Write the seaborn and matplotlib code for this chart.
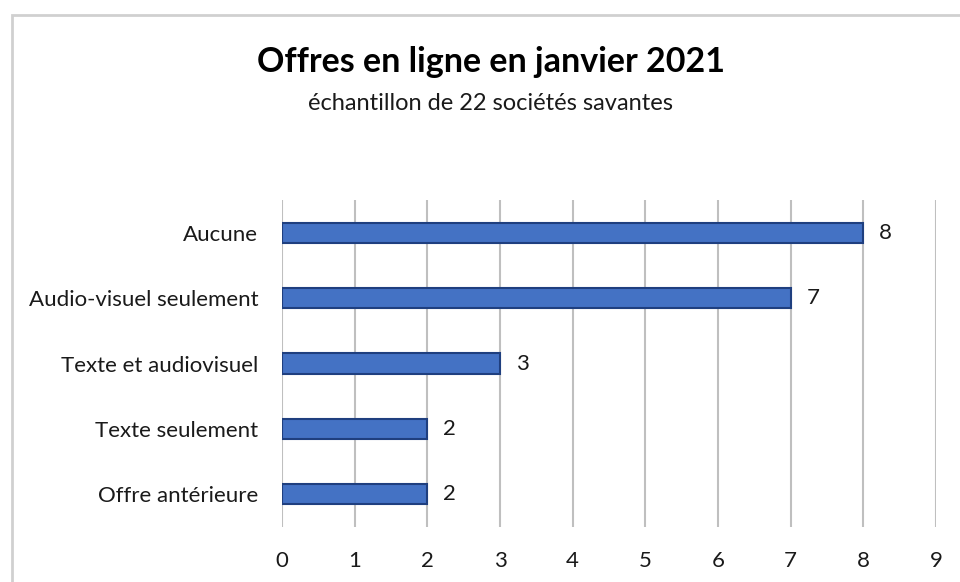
import matplotlib
matplotlib.use("Agg")
import matplotlib.pyplot as plt
import seaborn as sns
from matplotlib.patches import Rectangle

# données
categories = ["Aucune", "Audio-visuel seulement", "Texte et audiovisuel",
              "Texte seulement", "Offre antérieure"]
valeurs = [8, 7, 3, 2, 2]
ticks_x = list(range(0, 10))

sns.set_theme(style="white")
plt.rcParams["font.family"] = ["Lato", "DejaVu Sans"]

fig = plt.figure(figsize=(9.6, 5.82), dpi=100)
ax = fig.add_axes([282 / 960, 1 - 527 / 582, (936 - 282) / 960, (527 - 200) / 582])

sns.barplot(x=valeurs, y=categories, order=categories, orient="h",
            color="#4472C4", edgecolor="#1F3F7F", linewidth=1.5,
            width=0.31, saturation=1, ax=ax)

ax.set_xlim(0, 9)
ax.set_ylim(4.5, -0.5)
ax.set_xticks(ticks_x)
ax.xaxis.grid(True, color="#BFBFBF", linewidth=1.5)
ax.set_axisbelow(True)
for s in ax.spines.values():
    s.set_visible(False)
ax.tick_params(axis="x", length=0, pad=17, labelsize=16, labelcolor="#1a1a1a")
ax.tick_params(axis="y", length=0, pad=17, labelsize=16, labelcolor="#1a1a1a")
ax.set_xlabel("")
ax.set_ylabel("")

for i, v in enumerate(valeurs):
    ax.text(v + 0.22, i, str(v), va="center", ha="left", fontsize=16, color="#1a1a1a")

fig.text(0.511, 0.893, "Offres en ligne en janvier 2021", ha="center", va="center",
         fontsize=24.5, fontweight="bold", color="black")
fig.text(0.511, 0.823, "échantillon de 22 sociétés savantes", ha="center", va="center",
         fontsize=17, color="#1a1a1a")

# cadre du graphique
fig.patches.append(Rectangle((11.5 / 960, -0.1), 1.2, 1 - 14.5 / 582 + 0.1,
                             transform=fig.transFigure, fill=False,
                             edgecolor="#D0D0D0", linewidth=2, zorder=0))

fig.savefig("out.png", dpi=100, facecolor="white")
